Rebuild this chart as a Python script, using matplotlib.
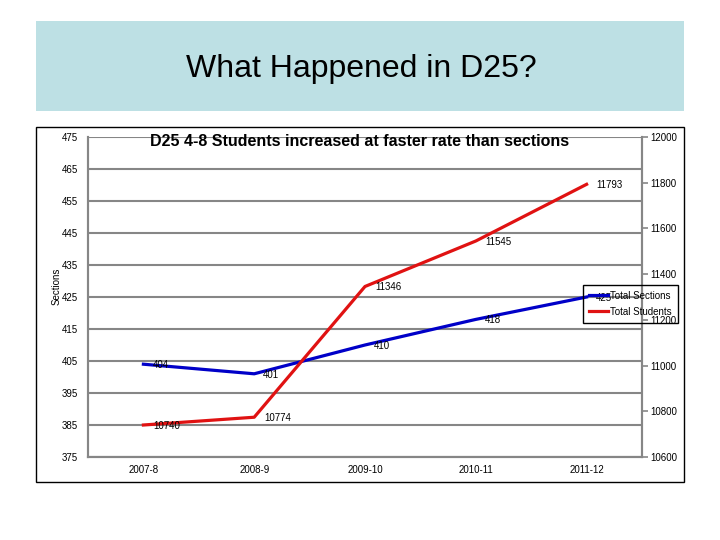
import matplotlib
matplotlib.use("Agg")
import matplotlib.pyplot as plt
from matplotlib.patches import Rectangle

plt.rcParams['font.family'] = ['Liberation Sans', 'DejaVu Sans']

years = ["2007-8", "2008-9", "2009-10", "2010-11", "2011-12"]
sections = [404, 401, 410, 418, 425]
students = [10740, 10774, 11346, 11545, 11793]
left_ticks = list(range(375, 476, 10))
right_ticks = list(range(10600, 12001, 200))

W, H = 720, 540
fig = plt.figure(figsize=(7.2, 5.4), dpi=100)
fig.patch.set_facecolor("white")

def fx(px):
    return px / W

def fy(py):
    return 1 - py / H

# Banner
fig.patches.append(Rectangle((fx(36), fy(111)), fx(684) - fx(36), fy(21) - fy(111),
                             transform=fig.transFigure, facecolor="#bde0e4",
                             edgecolor="none", zorder=-10))
fig.text(fx(361), fy(69), "What Happened in D25?", ha="center", va="center",
         fontsize=23, color="black")

# Chart frame
fig.patches.append(Rectangle((fx(36), fy(482)), fx(684) - fx(36), fy(127) - fy(482),
                             transform=fig.transFigure, facecolor="white",
                             edgecolor="black", linewidth=1.0, zorder=-10))

ax = fig.add_axes([fx(88), fy(457), fx(642) - fx(88), fy(137) - fy(457)])
ax.set_facecolor("none")
ax2 = ax.twinx()

grid_c = "#868686"
x = list(range(len(years)))

ax.plot(x, sections, color="#0000c8", linewidth=2.3, label="Total Sections", zorder=3)
ax2.plot(x, students, color="#e01212", linewidth=2.3, label="Total Students", zorder=3)

ax.set_xlim(-0.5, len(years) - 0.5)
ax.set_ylim(375, 475)
ax2.set_ylim(10600, 12000)
ax.set_yticks(left_ticks)
ax2.set_yticks(right_ticks)
ax.set_xticks(x)
ax.set_xticklabels(years)

ax.yaxis.grid(True, color=grid_c, linewidth=1.5)
ax.set_axisbelow(True)
ax.tick_params(axis="y", length=0, labelsize=7, pad=7)
ax.tick_params(axis="x", length=0, labelsize=7, pad=6)
ax2.tick_params(axis="y", length=4, width=1.2, color=grid_c, labelsize=7, pad=2)

for a in (ax, ax2):
    for s in ("left", "bottom", "right"):
        a.spines[s].set_color(grid_c)
        a.spines[s].set_linewidth(1.5)
    a.spines["top"].set_visible(False)

ax.set_ylabel("Sections", fontsize=7, va="center")
ax.yaxis.set_label_coords(-0.056, 0.534)

for xi, v in zip(x, sections):
    ax.annotate(str(v), (xi, v), xytext=(9, -1), textcoords="offset pixels",
                ha="left", va="center", fontsize=7, zorder=4)
for xi, v in zip(x, students):
    ax2.annotate(str(v), (xi, v), xytext=(10, -1), textcoords="offset pixels",
                 ha="left", va="center", fontsize=7, zorder=4)

fig.text(fx(360), fy(142), "D25 4-8 Students increased at faster rate than sections",
         ha="center", va="center", fontsize=11.5, fontweight="bold")

h1, l1 = ax.get_legend_handles_labels()
h2, l2 = ax2.get_legend_handles_labels()
leg = fig.legend(h1 + h2, l1 + l2, loc="upper left",
                 bbox_to_anchor=(fx(583), fy(285)), fontsize=7,
                 frameon=True, fancybox=False, framealpha=1, edgecolor="black",
                 handlelength=2.0, handletextpad=0.2, borderpad=0.6,
                 labelspacing=0.6, borderaxespad=0)
leg.get_frame().set_facecolor("none")
leg.get_frame().set_linewidth(1.0)

fig.savefig("out.png", dpi=100, facecolor="white")
